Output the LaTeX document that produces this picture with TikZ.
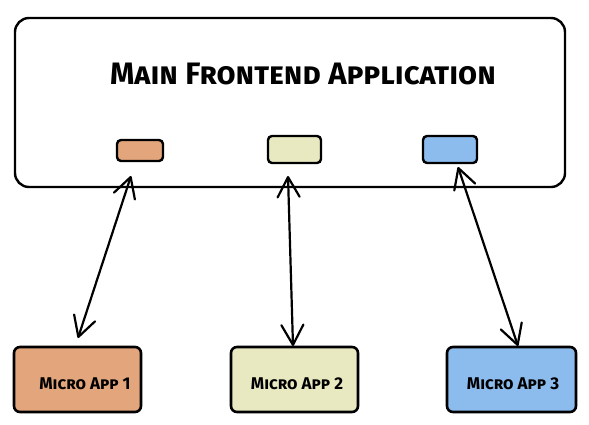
\documentclass[tikz,border=0pt]{standalone}
\usepackage{fontspec}
\setmainfont{Fira Sans}
\newfontfamily\handfont[Letters=SmallCaps]{Fira Sans Bold}
\usetikzlibrary{arrows.meta}
\definecolor{orangefill}{HTML}{E3A57C}
\definecolor{yellowfill}{HTML}{E8E9C0}
\definecolor{bluefill}{HTML}{8CBBEE}
\tikzset{
  mainbox/.style={draw=black, line width=2.4pt, rounded corners=14pt},
  port/.style={draw=black, line width=2.4pt, rounded corners=4pt},
  appbox/.style={draw=black, line width=2.6pt, rounded corners=6pt},
  barb/.tip={Straight Barb[length=20pt 0 0,width=22pt 0 0,line width=2.2pt,round]},
  link/.style={line width=2.2pt, line cap=round, barb-barb},
  lbl/.style={font=\handfont\fontsize{17}{19}\selectfont}
}
\begin{document}
\begin{tikzpicture}[x=1pt,y=-1pt]
\useasboundingbox (0,0) rectangle (589,424);
\draw[mainbox] (15,18) rectangle (565,187);
\node[font=\handfont\fontsize{31}{34}\selectfont] (title) at (303,74) {Main Frontend Application};
\draw[port, fill=orangefill] (117,140) rectangle (163,161);
\draw[port, fill=yellowfill] (268,136) rectangle (321,163);
\draw[port, fill=bluefill] (423,136) rectangle (477,163);
\node[appbox, fill=orangefill, minimum width=127pt, minimum height=65pt] (a1) at (77.5,379.5) {};
\node[appbox, fill=yellowfill, minimum width=127pt, minimum height=65pt] (a2) at (294.5,379.5) {};
\node[appbox, fill=bluefill, minimum width=129pt, minimum height=65pt] (a3) at (511.5,379.5) {};
\node[lbl] (t1) at (85,384) {Micro App 1};
\node[lbl] (t2) at (297,384) {Micro App 2};
\node[lbl] (t3) at (513,384) {Micro App 3};
\coordinate (p1) at (131,176);
\coordinate (q1) at (78,338);
\coordinate (p2) at (288,176);
\coordinate (q2) at (293,346);
\coordinate (p3) at (458,167);
\coordinate (q3) at (518,346);
\draw[link] (p1) -- (q1);
\draw[link] (p2) -- (q2);
\draw[link] (p3) -- (q3);
\end{tikzpicture}
\end{document}
